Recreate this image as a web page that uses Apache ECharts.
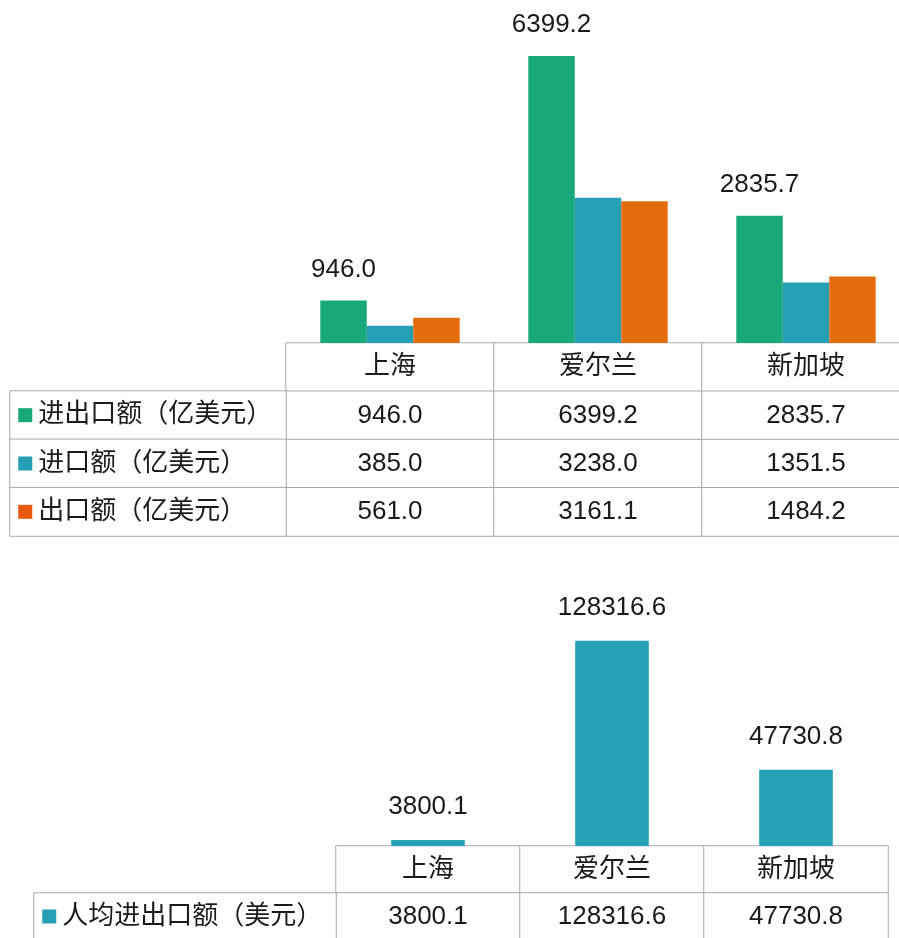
<!DOCTYPE html>
<html><head><meta charset="utf-8">
<script src="https://cdn.jsdelivr.net/npm/echarts@6/dist/echarts.min.js"></script>
<style>html,body{margin:0;padding:0;background:#fff}#c{width:899px;height:938px}</style>
</head><body><div id="c"></div>
<script>
const categories = ['上海', '爱尔兰', '新加坡'];
const seriesNames = ['进出口额（亿美元）', '进口额（亿美元）', '出口额（亿美元）'];
const totalTrade = [946.0, 6399.2, 2835.7];
const importTrade = [385.0, 3238.0, 1351.5];
const exportTrade = [561.0, 3161.1, 1484.2];
const perCapitaName = '人均进出口额（美元）';
const perCapita = [3800.1, 128316.6, 47730.8];

const topValues = [totalTrade, importTrade, exportTrade];
const colors = ['#18A87A', '#249FB3', '#E36C0A'];
const FONT = "'Liberation Sans','Noto Sans CJK SC',sans-serif";
const TXT = '#1a1a1a';
const BORDER = '#a8a8a8';
const fmt = v => Number(v).toFixed(1);

const cellStyle = { color: '#fff', borderColor: BORDER, borderWidth: 1 };

const topTableData = [];
categories.forEach((c, i) => {
  topTableData.push([i, 0, 0]);
  topValues.forEach((arr, s) => topTableData.push([i, s + 1, arr[i]]));
});
const topRowData = seriesNames.map((n, s) => [0, s, s]);

const botTableData = [];
categories.forEach((c, i) => {
  botTableData.push([i, 0, 0]);
  botTableData.push([i, 1, perCapita[i]]);
});

const hiddenCat = (gi, data, inverse) => ({ type: 'category', gridIndex: gi, data, show: false, inverse: !!inverse });
const g = o => Object.assign({ outerBoundsMode: 'none', containLabel: false }, o);

const option = {
  animation: false,
  backgroundColor: '#fff',
  textStyle: { fontFamily: FONT },
  grid: [
    g({ left: 286, top: 29, width: 624, height: 314 }),
    g({ left: 286, top: 343, width: 624, height: 193 }),
    g({ left: 10, top: 391, width: 276, height: 145 }),
    g({ left: 336, top: 622, width: 552, height: 224 }),
    g({ left: 336, top: 846, width: 552, height: 94 }),
    g({ left: 34, top: 893, width: 302, height: 47 })
  ],
  xAxis: [
    hiddenCat(0, categories),
    hiddenCat(1, categories),
    hiddenCat(2, ['label']),
    hiddenCat(3, categories),
    hiddenCat(4, categories),
    hiddenCat(5, ['label'])
  ],
  yAxis: [
    { type: 'value', gridIndex: 0, min: 0, max: 7000, show: false },
    hiddenCat(1, ['header'].concat(seriesNames), true),
    hiddenCat(2, seriesNames, true),
    { type: 'value', gridIndex: 3, min: 0, max: 140000, show: false },
    hiddenCat(4, ['header', perCapitaName], true),
    hiddenCat(5, [perCapitaName], true)
  ],
  series: [
    ...topValues.map((arr, s) => ({
      type: 'bar', xAxisIndex: 0, yAxisIndex: 0, data: arr,
      barGap: 0, barCategoryGap: '33%',
      itemStyle: { color: colors[s] },
      label: s === 0 ? { show: true, position: 'top', distance: 18, fontSize: 26, color: TXT, fontFamily: FONT, formatter: p => fmt(p.value) } : { show: false }
    })),
    {
      type: 'heatmap', xAxisIndex: 1, yAxisIndex: 1, data: topTableData,
      itemStyle: cellStyle,
      emphasis: { disabled: true },
      label: { show: true, color: TXT, fontSize: 26, fontFamily: FONT,
        formatter: p => p.value[1] === 0 ? categories[p.value[0]] : fmt(topValues[p.value[1] - 1][p.value[0]]) }
    },
    {
      type: 'heatmap', xAxisIndex: 2, yAxisIndex: 2, data: topRowData,
      itemStyle: cellStyle,
      emphasis: { disabled: true },
      label: { show: true, position: 'insideLeft', distance: 9, color: TXT, fontFamily: FONT,
        formatter: p => '{sq' + p.value[1] + '|}{t|' + seriesNames[p.value[1]] + '}',
        rich: {
          sq0: { width: 14, height: 14, backgroundColor: colors[0] },
          sq1: { width: 14, height: 14, backgroundColor: colors[1] },
          sq2: { width: 14, height: 14, backgroundColor: '#E8590F' },
          t: { fontSize: 26, color: TXT, fontFamily: FONT, padding: [0, 0, 0, 6] }
        } }
    },
    {
      type: 'bar', xAxisIndex: 3, yAxisIndex: 3, data: perCapita,
      barCategoryGap: '60%',
      itemStyle: { color: colors[1] },
      label: { show: true, position: 'top', distance: 20, fontSize: 26, color: TXT, fontFamily: FONT, formatter: p => fmt(p.value) }
    },
    {
      type: 'heatmap', xAxisIndex: 4, yAxisIndex: 4, data: botTableData,
      itemStyle: cellStyle,
      emphasis: { disabled: true },
      label: { show: true, color: TXT, fontSize: 26, fontFamily: FONT,
        formatter: p => p.value[1] === 0 ? categories[p.value[0]] : fmt(perCapita[p.value[0]]) }
    },
    {
      type: 'heatmap', xAxisIndex: 5, yAxisIndex: 5, data: [[0, 0, 0]],
      itemStyle: cellStyle,
      emphasis: { disabled: true },
      label: { show: true, position: 'insideLeft', distance: 9, color: TXT, fontFamily: FONT,
        formatter: () => '{sq|}{t|' + perCapitaName + '}',
        rich: {
          sq: { width: 14, height: 14, backgroundColor: colors[1] },
          t: { fontSize: 26, color: TXT, fontFamily: FONT, padding: [0, 0, 0, 6] }
        } }
    }
  ]
};
const chart = echarts.init(document.getElementById('c'), null, { renderer: 'canvas' });
chart.setOption(option);
</script></body></html>
